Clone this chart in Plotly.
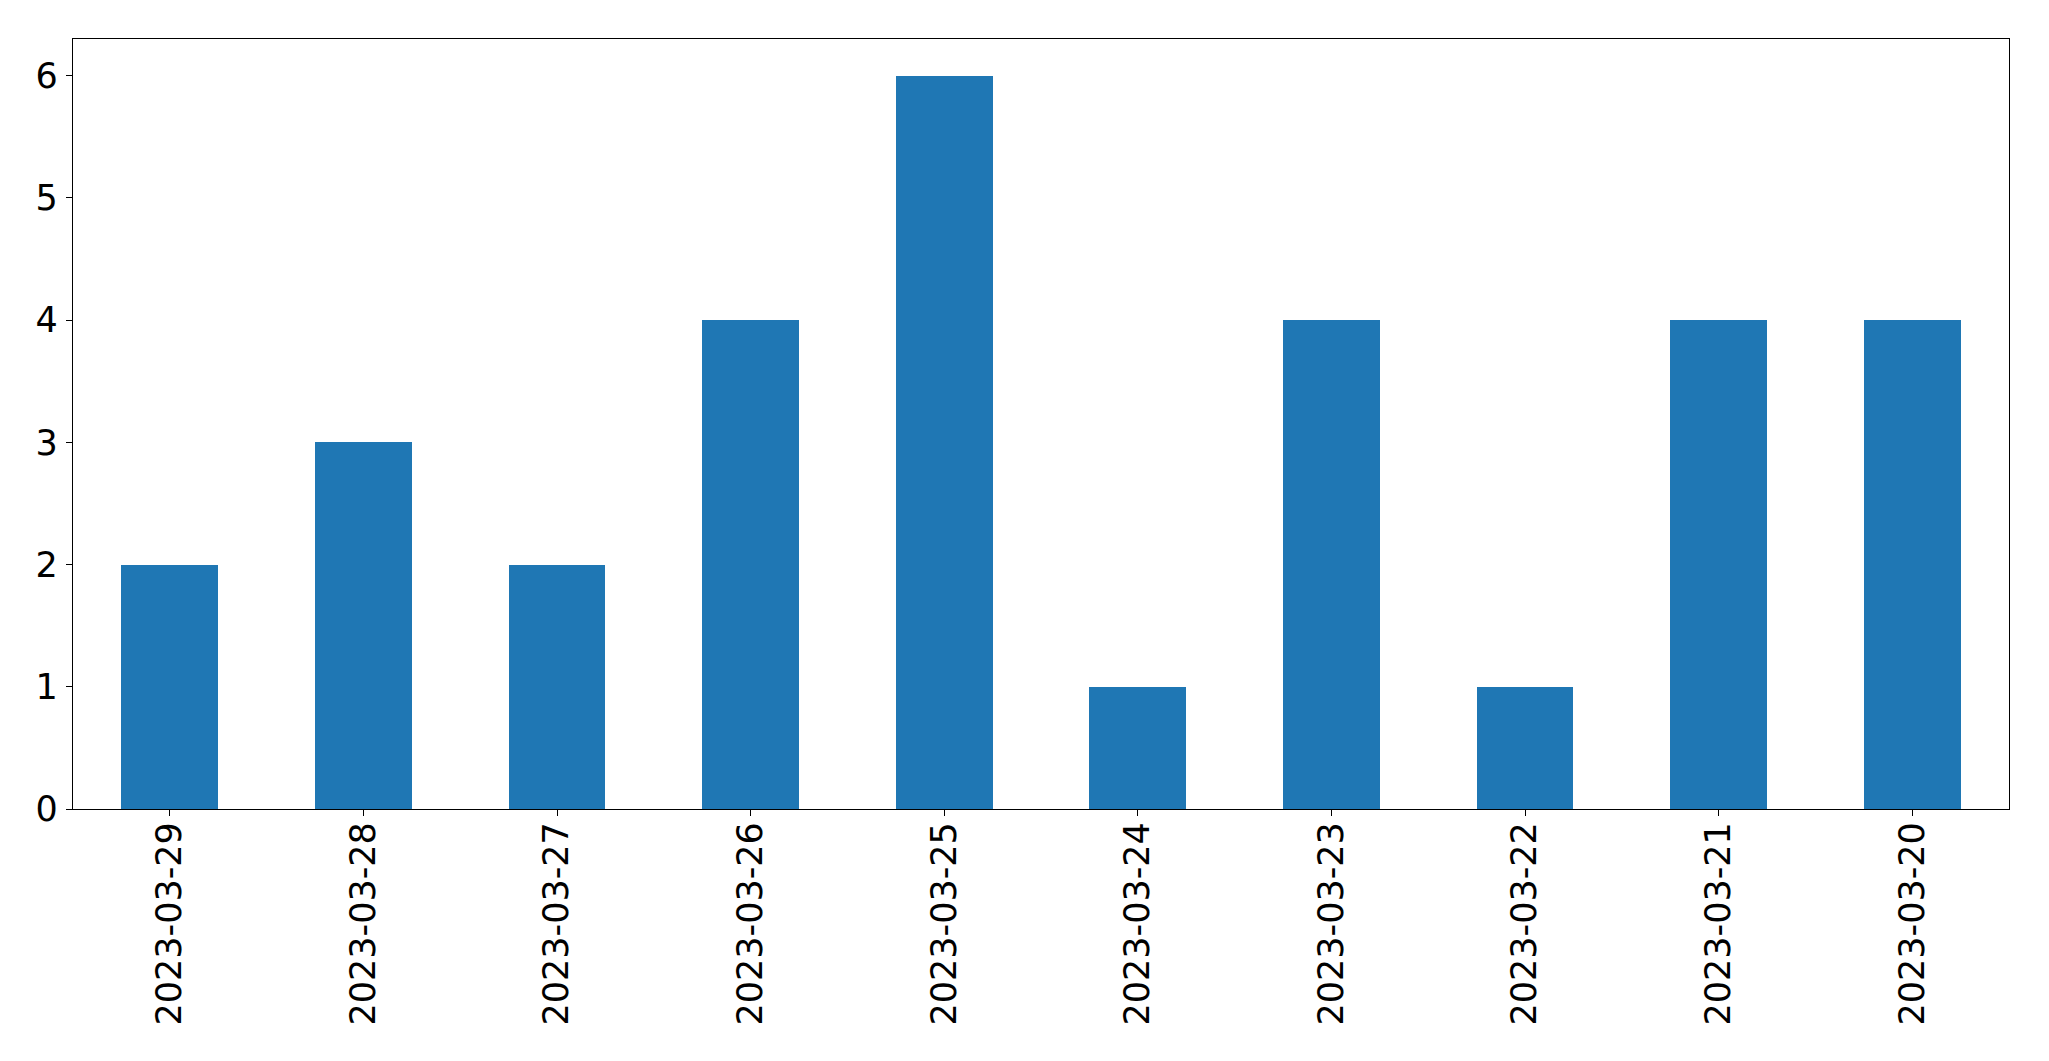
import plotly.graph_objects as go

dates = ["2023-03-29", "2023-03-28", "2023-03-27", "2023-03-26", "2023-03-25",
         "2023-03-24", "2023-03-23", "2023-03-22", "2023-03-21", "2023-03-20"]
counts = [2, 3, 2, 4, 6, 1, 4, 1, 4, 4]
y_ticks = [0, 1, 2, 3, 4, 5, 6]

fig = go.Figure(go.Bar(x=list(range(len(dates))), y=counts, width=0.5,
                       marker=dict(color="#1f77b4", line=dict(width=0))))

font = dict(family="DejaVu Sans", size=35, color="black")
# the page body has an 8px default margin, so offsets are compensated here
fig.update_layout(
    width=2049, height=1061,
    margin=dict(l=65, r=48, t=31, b=260, pad=0),
    plot_bgcolor="white", paper_bgcolor="white",
    showlegend=False,
    font=font,
    bargap=0,
)
fig.update_xaxes(
    range=[-0.5, len(dates) - 0.5], automargin=False,
    tickmode="array", tickvals=list(range(len(dates))), ticktext=dates,
    tickangle=-90, ticks="outside", ticklen=6, tickwidth=1.3, tickcolor="black",
    ticklabelstandoff=-8,
    showline=True, linecolor="black", linewidth=1.3, mirror=True,
    showgrid=False, zeroline=False, tickfont=font,
)
fig.update_yaxes(
    range=[0, 6.3], tickmode="array", tickvals=y_ticks, automargin=False,
    ticks="outside", ticklen=6, tickwidth=1.3, tickcolor="black",
    ticklabelstandoff=1,
    showline=True, linecolor="black", linewidth=1.3, mirror=True,
    showgrid=False, zeroline=False, tickfont=font,
)
fig.write_html("out.html")
